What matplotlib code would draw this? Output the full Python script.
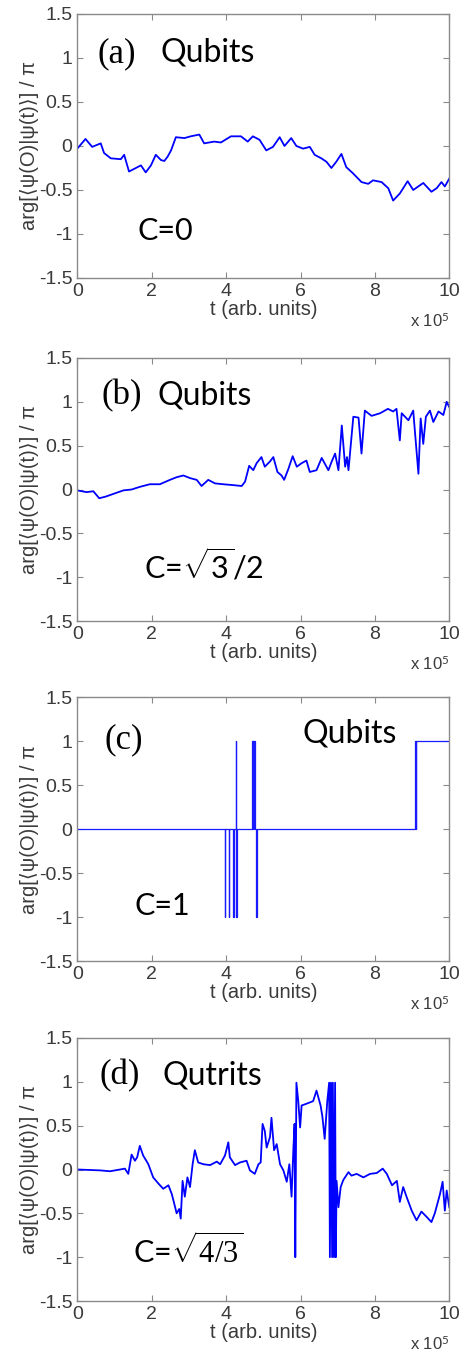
import matplotlib
matplotlib.use("Agg")
import matplotlib.pyplot as plt

plt.rcParams['axes.unicode_minus'] = False
plt.rcParams['mathtext.fontset'] = 'custom'
plt.rcParams['mathtext.rm'] = 'Liberation Serif'
plt.rcParams['mathtext.sf'] = 'Lato'
plt.rcParams['mathtext.it'] = 'Liberation Serif:italic'

# ---------------- data (t in units of 1e5) ----------------
a_t = [0, 0.22, 0.4, 0.63, 0.72, 0.9, 1.17, 1.26, 1.39, 1.62, 1.71, 1.84, 1.98, 2.11, 2.25, 2.34,
       2.43, 2.52, 2.65, 2.88, 3.05, 3.28, 3.41, 3.68, 3.86, 4.13, 4.4, 4.58, 4.72, 4.9, 5.08,
       5.26, 5.44, 5.57, 5.75, 5.89, 6.07, 6.25, 6.38, 6.56, 6.7, 6.83, 6.96, 7.1, 7.23, 7.41,
       7.64, 7.82, 7.95, 8.18, 8.36, 8.49, 8.67, 8.88, 9.03, 9.3, 9.52, 9.66, 9.79, 9.88, 10]
a_y = [-0.03, 0.08, -0.01, 0.03, -0.08, -0.14, -0.15, -0.1, -0.29, -0.24, -0.22, -0.3, -0.22,
       -0.1, -0.16, -0.17, -0.12, -0.05, 0.1, 0.09, 0.11, 0.13, 0.03, 0.05, 0.04, 0.11, 0.11,
       0.05, 0.11, 0.07, -0.05, -0.01, 0.1, 0.0, 0.09, 0.0, -0.03, -0.01, -0.1, -0.14, -0.18,
       -0.25, -0.18, -0.09, -0.24, -0.31, -0.41, -0.43, -0.39, -0.41, -0.48, -0.62, -0.54, -0.4,
       -0.5, -0.42, -0.52, -0.48, -0.41, -0.46, -0.37]

b_t = [0, 0.25, 0.43, 0.59, 0.77, 0.97, 1.24, 1.46, 1.68, 1.95, 2.22, 2.49, 2.67, 2.85, 3.03,
       3.21, 3.34, 3.52, 3.7, 3.92, 4.19, 4.42, 4.51, 4.62, 4.73, 4.82, 4.95, 5.04, 5.18, 5.27,
       5.38, 5.49, 5.56, 5.67, 5.79, 5.9, 6.03, 6.16, 6.25, 6.43, 6.57, 6.75, 6.84, 6.93, 7.02,
       7.11, 7.2, 7.25, 7.29, 7.42, 7.56, 7.64, 7.73, 7.91, 8.14, 8.35, 8.49, 8.58, 8.67, 8.72,
       8.9, 9.03, 9.08, 9.17, 9.23, 9.3, 9.37, 9.48, 9.57, 9.71, 9.84, 9.93, 10]
b_y = [-0.01, -0.03, -0.02, -0.1, -0.08, -0.05, -0.01, 0.0, 0.03, 0.06, 0.06, 0.11, 0.14, 0.16,
       0.13, 0.11, 0.04, 0.11, 0.07, 0.06, 0.05, 0.04, 0.09, 0.27, 0.22, 0.3, 0.37, 0.26, 0.32,
       0.37, 0.2, 0.16, 0.11, 0.23, 0.38, 0.26, 0.3, 0.33, 0.2, 0.22, 0.36, 0.22, 0.32, 0.41,
       0.22, 0.73, 0.26, 0.37, 0.22, 0.83, 0.82, 0.41, 0.9, 0.84, 0.87, 0.92, 0.89, 0.92, 0.56,
       0.87, 0.79, 0.9, 0.64, 0.18, 0.81, 0.52, 0.83, 0.9, 0.77, 0.89, 0.85, 1.0, 0.94]

c_t = [0, 3.96, 3.98, 4.07, 4.09, 4.19, 4.22, 4.255, 4.265, 4.27, 4.30, 4.69, 4.715, 4.725,
       4.75, 4.755, 4.78, 4.815, 4.825, 9.09, 9.10, 9.11, 10]
c_y = [0, -1, 0, -1, 0, -1, 0, 1, 0, -1, 0, 1, 0, 1, 0, 1, 0, -1, 0, 1, 0, 1, 1]

d_t = [0, 0.61, 0.88, 1.15, 1.28, 1.37, 1.46, 1.55, 1.61, 1.68, 1.77, 1.91, 2.04, 2.18, 2.31,
       2.45, 2.54, 2.63, 2.67, 2.74, 2.78, 2.83, 2.89, 2.96, 3.03, 3.1, 3.16, 3.25, 3.39, 3.57,
       3.75, 3.84, 3.97, 4.06, 4.1, 4.24, 4.37, 4.55, 4.64, 4.77, 4.87, 4.93, 4.98, 5.04, 5.09,
       5.18, 5.22, 5.29, 5.36, 5.45, 5.54, 5.63, 5.7, 5.76, 5.81, 5.84, 5.86, 5.89, 5.94, 5.99,
       6.03, 6.16, 6.34, 6.43, 6.54, 6.59, 6.65, 6.72, 6.77, 6.79, 6.82, 6.85, 6.87, 6.9, 6.93,
       6.95, 6.97, 7.02, 7.08, 7.15, 7.29, 7.37, 7.51, 7.69, 7.87, 8.05, 8.21, 8.32, 8.46, 8.59,
       8.67, 8.76, 8.85, 8.99, 9.12, 9.25, 9.39, 9.52, 9.61, 9.75, 9.82, 9.88, 9.93, 10]
d_y = [0, -0.01, -0.02, 0, 0.01, -0.05, 0.17, 0.1, 0.14, 0.27, 0.16, 0.06, -0.09, -0.16, -0.22,
       -0.18, -0.28, -0.43, -0.5, -0.45, -0.56, -0.13, -0.31, -0.09, -0.2, 0.06, 0.22, 0.08, 0.06,
       0.05, 0.09, 0.06, 0.16, 0.31, 0.14, 0.05, 0.08, 0.1, -0.01, -0.05, 0.06, 0.08, 0.52, 0.44,
       0.25, 0.37, 0.59, 0.22, 0.29, 0.06, -0.01, -0.14, 0.06, -0.31, 0.25, 0.52, -1.0, 0.99,
       0.78, 0.48, 0.73, 0.75, 0.78, 0.9, 0.73, 0.6, 0.35, 0.78, 0.99, -1.0, 0.99, -1.0, 0.99,
       -1.0, 0.99, -1.0, -0.13, -0.43, -0.2, -0.12, -0.03, -0.07, -0.05, -0.09, -0.05, -0.04,
       0.01, -0.05, -0.18, -0.13, -0.37, -0.2, -0.31, -0.47, -0.58, -0.48, -0.54, -0.6, -0.5,
       -0.28, -0.14, -0.47, -0.24, -0.43]

x_ticks = [0, 2, 4, 6, 8, 10]
y_ticks = [-1.5, -1, -0.5, 0, 0.5, 1, 1.5]
y_ticklabels = ['-1.5', '-1', '-0.5', '0', '0.5', '1', '1.5']

ylabel_text = 'arg[⟨ψ(O)|ψ(t)⟩] / π'
xlabel_text = 't (arb. units)'

# ---------------- figure ----------------
W, H = 459, 1352
fig = plt.figure(figsize=(W / 100, H / 100), dpi=100)

tops = [14, 358, 697, 1038]
bots = [278, 621, 961, 1301]
left_px, right_px = 77.3, 449.3

series = [(a_t, a_y, None), (b_t, b_y, None), (c_t, c_y, 'steps-post'), (d_t, d_y, None)]
labels = [('(a)', 'Qubits', 'C=0'),
          ('(b)', 'Qubits', r'C=$\sqrt{\mathsf{3}}\mathsf{/2}$'),
          ('(c)', 'Qubits', 'C=1'),
          ('(d)', 'Qutrits', r'C=$\sqrt{\mathrm{4/3}}$')]
lab_pos = [((0.53, 0.955), (2.25, 0.955), (1.63, -1.07)),
           ((0.66, 0.97), (2.15, 0.97), (1.8, -1.02)),
           ((0.72, 0.92), (6.05, 0.98), (1.53, -0.98)),
           ((0.6, 0.97), (2.3, 0.97), (1.5, -1.06))]

frame_col = '#8a8a8a'
text_col = '#3a3a3a'
sans = ['Liberation Sans', 'DejaVu Sans']

for i in range(4):
    ax = fig.add_axes([left_px / W, 1 - bots[i] / H, (right_px - left_px) / W,
                       (bots[i] - tops[i]) / H])
    t, y, ds = series[i]
    if ds:
        ax.plot(t, y, color='#1a1aff', lw=0.9, drawstyle=ds)
    else:
        ax.plot(t, y, color='#0000ff', lw=1.3)
    ax.set_xlim(0, 10)
    ax.set_ylim(-1.5, 1.5)
    ax.set_xticks(x_ticks)
    ax.set_xticklabels([str(v) for v in x_ticks])
    ax.set_yticks(y_ticks)
    ax.set_yticklabels(y_ticklabels)
    ax.tick_params(direction='in', top=True, right=True, length=4, width=0.8,
                   colors=frame_col, labelcolor=text_col, labelsize=14, pad=3.5)
    for lab in ax.get_xticklabels() + ax.get_yticklabels():
        lab.set_family(sans)
    for sp in ax.spines.values():
        sp.set_color(frame_col)
        sp.set_linewidth(1.0)
    ax.set_ylabel(ylabel_text, family=sans, fontsize=14.5, color=text_col, labelpad=0)
    ax.set_xlabel(xlabel_text, family=sans, fontsize=14.5, color=text_col, labelpad=0)
    ax.text(1.0, -0.125, r'x 10$^{\mathsf{5}}$', transform=ax.transAxes, ha='right',
            va='top', family=sans, fontsize=12, color=text_col)

    p1, p2, p3 = lab_pos[i]
    l1, l2, l3 = labels[i]
    ax.text(p1[0], p1[1], l1, family='Liberation Serif', fontsize=25, color='black',
            va='baseline', ha='left')
    ax.text(p2[0], p2[1], l2, family='Lato', fontsize=23, color='black',
            va='baseline', ha='left')
    ax.text(p3[0], p3[1], l3, family='Lato', fontsize=22, color='black',
            va='baseline', ha='left')

fig.savefig('out.png', dpi=100, facecolor='white')
